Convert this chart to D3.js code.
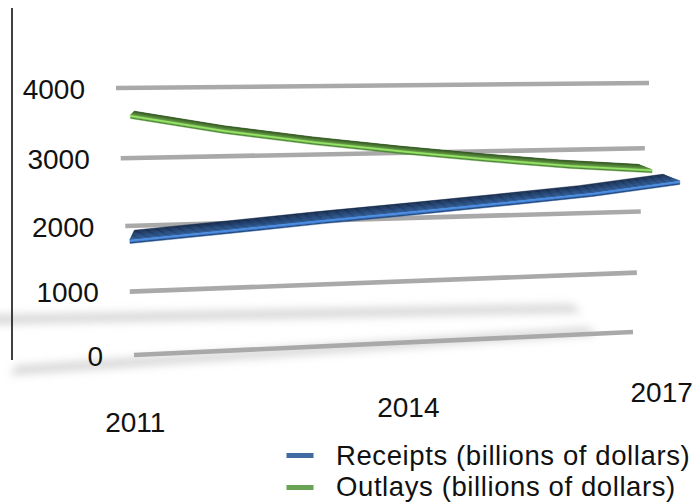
<!DOCTYPE html>
<html>
<head>
<meta charset="utf-8">
<script src="https://cdn.jsdelivr.net/npm/d3@7"></script>
<style>
  html, body { margin: 0; padding: 0; background: #ffffff; }
  svg { display: block; }
  text { font-family: "Liberation Sans", Arial, Helvetica, sans-serif; fill: #111; }
</style>
</head>
<body>
<script>
// ---- data ----
const years = [2011, 2012, 2013, 2014, 2015, 2016, 2017];
const receipts = [2230, 2320, 2415, 2500, 2590, 2685, 2820];
const outlays = [3715, 3495, 3320, 3170, 3035, 2915, 2825];
const valueTicks = [0, 1000, 2000, 3000, 4000];
const yearLabels = [2011, 2014, 2017];
const seriesNames = ["Receipts (billions of dollars)", "Outlays (billions of dollars)"];
const seriesSwatch = ["#4169a2", "#6aa353"];

const W = 700, H = 502;
const svg = d3.select("body").append("svg").attr("width", W).attr("height", H);

// ---- 3D scene: back wall (u across, v up) seen in perspective ----
const wall = { bl: [134, 355], br: [633, 332], tr: [649, 83], tl: [116, 88] };
const depthVP = [242, 10];           // vanishing point of the depth axis

function wallHomography(q) {
  const [x0, y0] = q.bl, [x1, y1] = q.br, [x2, y2] = q.tr, [x3, y3] = q.tl;
  const sx = x0 - x1 + x2 - x3, sy = y0 - y1 + y2 - y3;
  const dx1 = x1 - x2, dx2 = x3 - x2, dy1 = y1 - y2, dy2 = y3 - y2;
  const den = dx1 * dy2 - dx2 * dy1;
  const g = (sx * dy2 - dx2 * sy) / den;
  const h = (dx1 * sy - sx * dy1) / den;
  return {
    a: x1 - x0 + g * x1, b: x3 - x0 + h * x3, c: x0,
    d: y1 - y0 + g * y1, e: y3 - y0 + h * y3, f: y0, g, h
  };
}
const M = wallHomography(wall);

// u: across the wall, v: up the wall, t: depth (negative = toward the viewer)
function project(u, v, t) {
  const X = M.a * u + M.b * v + M.c + t * depthVP[0];
  const Y = M.d * u + M.e * v + M.f + t * depthVP[1];
  const Z = M.g * u + M.h * v + 1 + t;
  return [X / Z, Y / Z];
}

const uScale = d3.scaleLinear().domain([2011, 2017]).range([0.036, 0.964]);
const vScale = d3.scaleLinear().domain([0, 4000]).range([0, 1]);
const uLabel = d3.scaleLinear().domain([2011, 2017]).range([0.02, 0.975]);

const poly = d3.line().curve(d3.curveLinearClosed);

// ---- soft floor shadows ----
const defs = svg.append("defs");
defs.append("filter").attr("id", "soft").attr("x", "-20%").attr("y", "-200%")
  .attr("width", "140%").attr("height", "500%")
  .append("feGaussianBlur").attr("stdDeviation", 4.5);

const floorShadows = [
  { u0: -0.34, u1: 0.94, t0: 0.138, t1: 0.090, w: 0.017 },
  { u0: -0.21, u1: 0.92, t0: -0.0275, t1: 0.0095, w: 0.013 }
];
svg.append("g").attr("filter", "url(#soft)")
  .selectAll("path").data(floorShadows).join("path")
  .attr("d", s => poly([
    project(s.u0, 0, s.t0 - s.w), project(s.u1, 0, s.t1 - s.w),
    project(s.u1, 0, s.t1 + s.w), project(s.u0, 0, s.t0 + s.w)
  ]))
  .attr("fill", "#bdbdbd").attr("opacity", 0.6);

// ---- gridlines on the back wall ----
svg.append("g").selectAll("line").data(valueTicks).join("line")
  .each(function (d) {
    const p0 = project(0, vScale(d), 0), p1 = project(1, vScale(d), 0);
    d3.select(this).attr("x1", p0[0]).attr("y1", p0[1]).attr("x2", p1[0]).attr("y2", p1[1]);
  })
  .attr("stroke", "#a9a9a9").attr("stroke-width", 4.6);

// ---- value axis ----
svg.append("line").attr("x1", 12).attr("x2", 12).attr("y1", 8).attr("y2", 360)
  .attr("stroke", "#111").attr("stroke-width", 1.6);

svg.append("g").selectAll("text").data(valueTicks).join("text")
  .attr("x", d => project(0, vScale(d), 0)[0] - 31)
  .attr("y", d => project(0, vScale(d), 0)[1] + 10.5)
  .attr("text-anchor", "end").attr("font-size", 28)
  .text(d => d);

// ---- ribbons ----
const ribbons = [
  { values: outlays, tb: -0.030, tf: -0.064, th: 0.011,
    back: "#2a4d1c", front: "#659c44", face: "#94e664", faceLow: "#4f8a35" },
  { values: receipts, tb: -0.088, tf: -0.125, th: 0.012,
    back: "#132848", front: "#2c5893", face: "#4a8ee6", faceLow: "#234f8c" }
];

ribbons.forEach(r => {
  const g = svg.append("g");
  const edge = (t, dv) => years.map((yr, i) => project(uScale(yr), vScale(r.values[i]) + dv, t));
  const N = 8;
  const col = d3.interpolateRgb(r.back, r.front);
  for (let k = 0; k < N; k++) {
    const t0 = r.tb + (r.tf - r.tb) * k / N;
    const t1 = r.tb + (r.tf - r.tb) * (k + 1) / N;
    const c = col((k + 0.5) / N);
    g.append("path").attr("d", poly(edge(t0, 0).concat(edge(t1, 0).reverse())))
      .attr("fill", c).attr("stroke", c).attr("stroke-width", 0.6);
  }
  g.append("path").attr("d", poly(edge(r.tf, 0).concat(edge(r.tf, -r.th * 0.6).reverse())))
    .attr("fill", r.face).attr("stroke", r.face).attr("stroke-width", 0.4);
  g.append("path").attr("d", poly(edge(r.tf, -r.th * 0.6).concat(edge(r.tf, -r.th).reverse())))
    .attr("fill", r.faceLow).attr("stroke", r.faceLow).attr("stroke-width", 0.4);
});

// ---- category labels on the floor ----
svg.append("g").selectAll("text").data(yearLabels).join("text")
  .attr("x", d => project(uLabel(d), -0.13, -0.1086)[0])
  .attr("y", d => project(uLabel(d), -0.13, -0.1086)[1])
  .attr("text-anchor", "middle").attr("font-size", 28)
  .text(d => d);

// ---- legend ----
const legend = svg.append("g");
legend.selectAll("rect").data(seriesNames).join("rect")
  .attr("x", 286.5).attr("y", (d, i) => 453 + i * 32)
  .attr("width", 27).attr("height", 5)
  .attr("fill", (d, i) => seriesSwatch[i]);
legend.selectAll("text").data(seriesNames).join("text")
  .attr("x", 336).attr("y", (d, i) => 465 + i * 31)
  .attr("font-size", 27.5).attr("letter-spacing", 0.6)
  .text(d => d);
</script>
</body>
</html>
